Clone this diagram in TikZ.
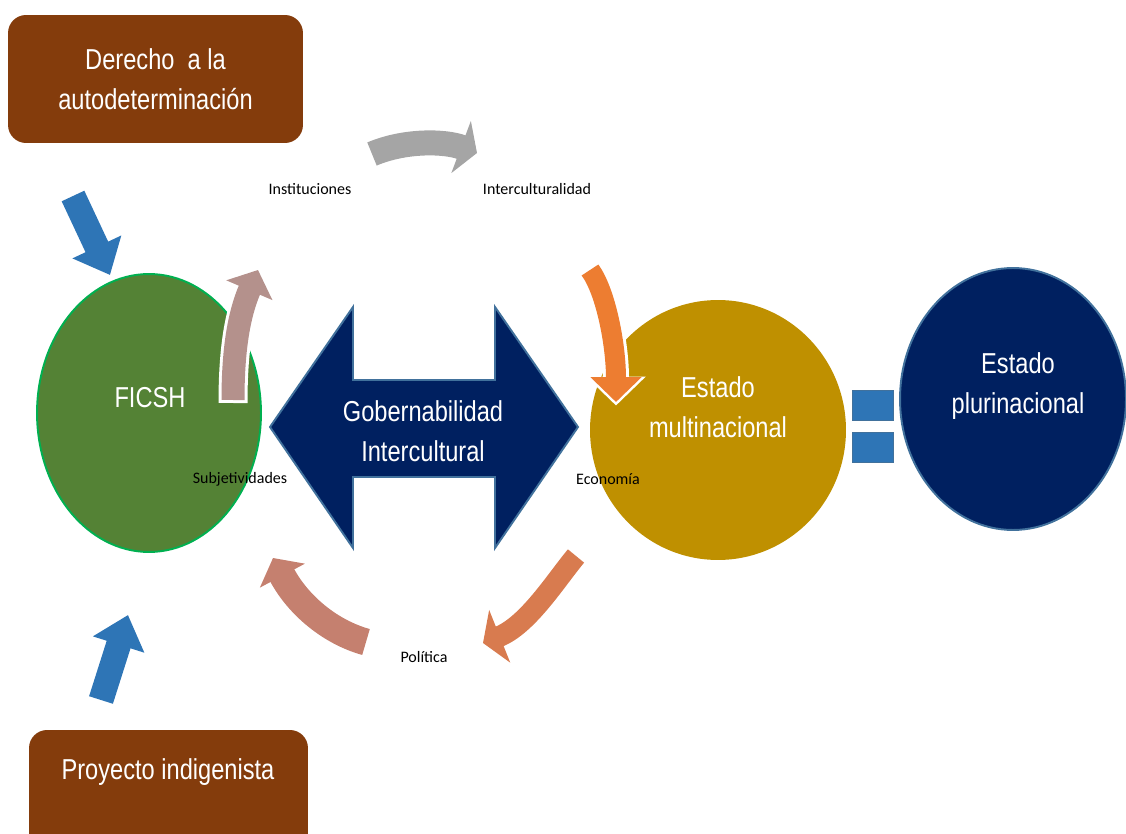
\documentclass[tikz,border=0pt]{standalone}
\usepackage{fontspec}
\setmainfont{Liberation Sans}[FakeStretch=0.82]
\newfontfamily\calibri{Carlito}
\usepackage{xcolor}
\usepackage{tikz}
\definecolor{boxbrown}{HTML}{843C0C}
\definecolor{arrowblue}{HTML}{2E75B6}
\definecolor{ficshgreen}{HTML}{548235}
\definecolor{ficshline}{HTML}{00B050}
\definecolor{estadogold}{HTML}{BF9000}
\definecolor{deepnavy}{HTML}{002060}
\definecolor{navyline}{HTML}{41719C}
\definecolor{cyclegray}{HTML}{A5A5A5}
\definecolor{cyclemauve}{HTML}{B4918C}
\definecolor{cycleorange}{HTML}{ED7D31}
\definecolor{cyclecopper}{HTML}{D87B4F}
\definecolor{cyclesalmon}{HTML}{C5806F}
\usetikzlibrary{shapes.geometric, arrows.meta}

\tikzset{
	bigtext/.style = {text = white, align = center, font = \fontsize{16.4}{23}\selectfont},
	smalltext/.style = {font = \calibri\fontsize{9.1}{11}\selectfont, inner sep = 0pt},
	brownbox/.style = {rectangle, rounded corners = 0.36cm, fill = boxbrown},
	bluearrow/.style = {arrowblue, line width = 0.5cm, -{Triangle[width = 1.04cm, length = 0.62cm]}}
}

\begin{document}
\begin{tikzpicture}[x = 0.02cm, y = -0.02cm]
			\useasboundingbox (0,0) rectangle (1126,834);
			
			% boxes and circles
			\node[brownbox, minimum width = 5.9cm, minimum height = 2.56cm, bigtext] (derecho) at (155.5,79) {Derecho~ a la\\autodeterminación};
			\node[brownbox, minimum width = 5.58cm, minimum height = 2.6cm] (proyecto) at (168.5,795) {};
			\node[bigtext] (proyectotext) at (168,772) {Proyecto indigenista};
			
			\node[ellipse, draw = ficshline, line width = 1.1pt, fill = ficshgreen, minimum width = 4.48cm, minimum height = 5.56cm] (ficsh) at (149,413) {};
			\node[bigtext] (ficshtext) at (150,398) {FICSH};
			
			\node[ellipse, fill = estadogold, minimum width = 5.12cm, minimum height = 5.2cm] (multi) at (718,430) {};
			\node[bigtext] (multitext) at (718,407) {Estado\\multinacional};
			
			\node[ellipse, draw = navyline, line width = 1.1pt, fill = deepnavy, minimum width = 4.52cm, minimum height = 5.24cm] (pluri) at (1013,399) {};
			\node[bigtext] (pluritext) at (1018,386) {Estado\\plurinacional};
			
			\draw[navyline, fill = arrowblue, line width = 0.4pt] (852,390) rectangle (893,420);
			\draw[navyline, fill = arrowblue, line width = 0.4pt] (852,432) rectangle (893,462);
			
			% double arrow
			\draw[navyline, fill = deepnavy, line width = 1.1pt, line join = miter] (270,427) -- (353,307) -- (353,380) -- (495,380) -- (495,307) -- (578,427) -- (495,548) -- (495,477) -- (353,477) -- (353,548) -- cycle;
			\node[bigtext] (gob) at (423,431) {Gobernabilidad\\Intercultural};
			
			% blue arrows
			\coordinate (d1) at (73,196);
			\coordinate (d2) at (110,275);
			\coordinate (p1) at (101,700);
			\coordinate (p2) at (128,615);
			\draw[bluearrow] (d1) -- (d2);
			\draw[bluearrow] (p1) -- (p2);
			
			% cycle
			\coordinate (g1) at (372,154);
			\coordinate (g2) at (477,153);
			\draw[cyclegray, line width = 0.5cm, -{Triangle[width = 1.1cm, length = 0.34cm]}] (g1) .. controls (405,140) and (445,141) .. (g2);
			
			\coordinate (m1) at (233,400);
			\coordinate (m2) at (258,270);
			\draw[white, line width = 0.58cm, shorten <= -0.06cm, shorten >= -0.06cm, -{Triangle[width = 1.12cm, length = 0.5cm]}] (m1) .. controls (233,345) and (240,312) .. (m2);
			\draw[cyclemauve, line width = 0.46cm, -{Triangle[width = 0.98cm, length = 0.44cm]}] (m1) .. controls (233,345) and (240,312) .. (m2);
			
			\coordinate (o1) at (590,270);
			\coordinate (o2) at (616,402);
			\draw[white, line width = 0.52cm, shorten >= -0.07cm, -{Triangle[width = 1.16cm, length = 0.58cm]}] (o1) .. controls (606,292) and (616,345) .. (o2);
			\draw[cycleorange, line width = 0.4cm, -{Triangle[width = 1.0cm, length = 0.5cm]}] (o1) .. controls (606,292) and (616,345) .. (o2);
			
			\coordinate (c1) at (576,556);
			\coordinate (c2) at (483,643);
			\draw[cyclecopper, line width = 0.42cm, -{Triangle[width = 1.12cm, length = 0.36cm]}] (c1) .. controls (556,580) and (528,625) .. (c2);
			
			\coordinate (s1) at (366,642);
			\coordinate (s2) at (273,558);
			\draw[cyclesalmon, line width = 0.54cm, -{Triangle[width = 1.0cm, length = 0.4cm]}] (s1) .. controls (330,632) and (298,605) .. (s2);
			
			% labels
			\node[smalltext] (inst) at (310,189) {Instituciones};
			\node[smalltext] (inter) at (537,189) {Interculturalidad};
			\node[smalltext] (subj) at (240,479) {Subjetividades};
			\node[smalltext] (econ) at (608,479) {Economía};
			\node[smalltext] (pol) at (424,657) {Política};
			
			\end{tikzpicture}
\end{document}
